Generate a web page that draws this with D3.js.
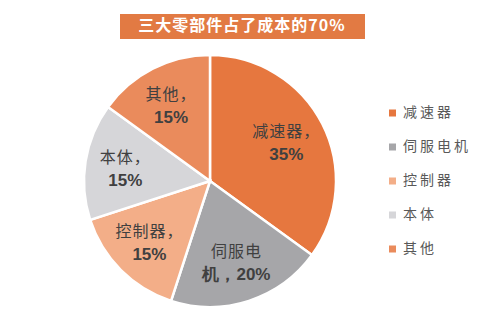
<!DOCTYPE html>
<html>
<head>
<meta charset="UTF-8">
<title></title>
<script type="text/javascript" src="https://cdn.jsdelivr.net/npm/d3@7/dist/d3.min.js"></script>
<style>
  body { margin: 0; background: #fff; }
</style>
</head>
<body>
<svg width="498" height="322"></svg>
<script>
var title = "三大零部件占了成本的70%";
var categories = ["减速器", "伺服电机", "控制器", "本体", "其他"];
var values = [35, 20, 15, 15, 15];
var colors = ["#E6773F", "#A6A6A9", "#F3AE88", "#D6D6D9", "#EA8B5C"];
// how the label inside each slice breaks into two lines
var labelLines = [["减速器，", "35%"], ["伺服电", "机，20%"], ["控制器，", "15%"], ["本体，", "15%"], ["其他，", "15%"]];

var width = 498, height = 322;
var svg = d3.select("svg");
var cx = 210, cy = 181, radius = 126;

// title banner
svg.append("rect")
    .attr("x", 120).attr("y", 14)
    .attr("width", 245).attr("height", 25)
    .attr("fill", "#E27A43");
svg.append("text")
    .attr("x", 242).attr("y", 27)
    .attr("text-anchor", "middle")
    .attr("dominant-baseline", "middle")
    .style("font-family", "'Noto Sans CJK SC', sans-serif")
    .style("font-size", "16px")
    .style("font-weight", "bold")
    .style("letter-spacing", "1px")
    .style("fill", "#fff")
    .text(title);

var data = categories.map(function(c, i){ return {name: c, value: values[i], idx: i}; });

var pie = d3.pie().sort(null).value(function(d){ return d.value; });
var arc = d3.arc().innerRadius(0).outerRadius(radius);
var labelArc = d3.arc().innerRadius(radius * 0.68).outerRadius(radius * 0.68);

var g = svg.append("g").attr("transform", "translate(" + cx + "," + cy + ")");

g.selectAll("path")
    .data(pie(data))
    .enter()
    .append("path")
    .attr("d", arc)
    .attr("fill", function(d){ return colors[d.data.idx]; })
    .attr("stroke", "#fff")
    .attr("stroke-width", 2.5);

//扇区内的标签
var lab = g.selectAll("text.lab")
    .data(pie(data))
    .enter()
    .append("text")
    .attr("class", "lab")
    .attr("text-anchor", "middle")
    .attr("transform", function(d){ return "translate(" + labelArc.centroid(d) + ")"; })
    .style("fill", "#404040")
    .style("font-size", "16px");

lab.append("tspan")
    .attr("x", 0).attr("y", -5)
    .style("font-family", "'Noto Sans CJK SC', sans-serif")
    .style("letter-spacing", "1px")
    .text(function(d){ return labelLines[d.data.idx][0]; });
lab.append("tspan")
    .attr("x", 0).attr("y", 18)
    .style("font-family", "'Liberation Sans', Arial, sans-serif")
    .style("font-weight", "bold")
    .style("font-size", "17px")
    .text(function(d){ return labelLines[d.data.idx][1]; });

// legend
var legend = svg.selectAll("g.leg")
    .data(data)
    .enter()
    .append("g")
    .attr("class", "leg")
    .attr("transform", function(d, i){ return "translate(389," + (113 + i * 34) + ")"; });
legend.append("rect")
    .attr("x", 0).attr("y", -3.5)
    .attr("width", 7).attr("height", 7)
    .attr("fill", function(d){ return colors[d.idx]; });
legend.append("text")
    .attr("x", 14).attr("y", 0)
    .attr("dominant-baseline", "middle")
    .style("font-family", "'Noto Sans CJK SC', sans-serif")
    .style("font-size", "14px")
    .style("letter-spacing", "3px")
    .style("fill", "#595959")
    .text(function(d){ return d.name; });
</script>
</body>
</html>
